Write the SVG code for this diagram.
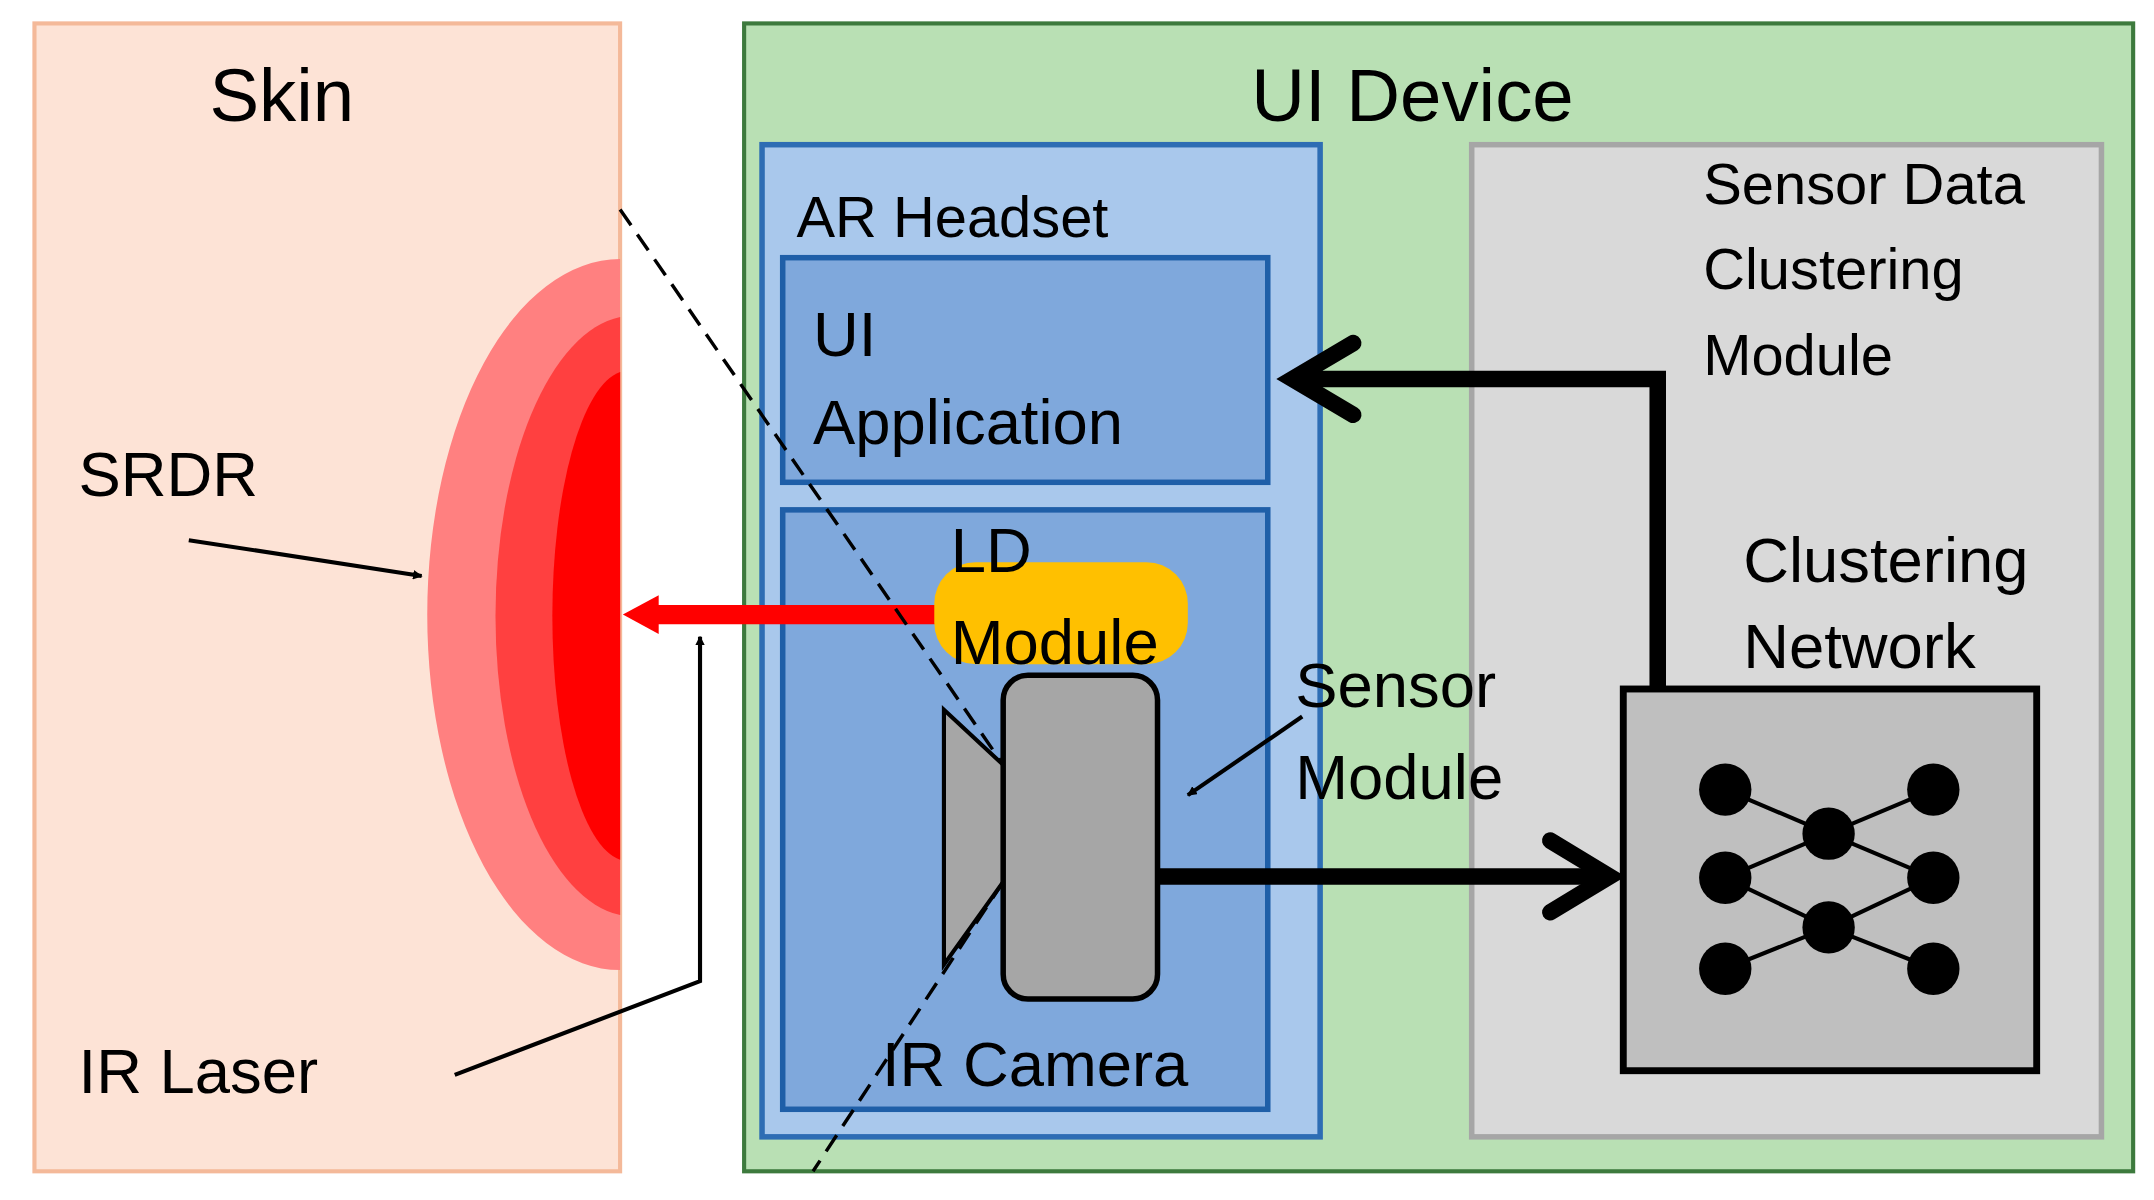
<svg xmlns="http://www.w3.org/2000/svg" width="2154" height="1200" viewBox="0 0 2154 1200">
<defs>
<style>
text{font-family:"Liberation Sans",Arial,sans-serif;fill:#000}
.t52{font-size:54px}.t44{font-size:46px}.t40{font-size:42px}
.thin{stroke:#000;stroke-width:3;fill:none}
.thick{stroke:#000;stroke-width:12;fill:none}
.n{fill:#000}
</style>
<marker id="ah" viewBox="0 0 10 10" refX="9" refY="5" markerWidth="7" markerHeight="7" orient="auto-start-reverse" markerUnits="userSpaceOnUse"><path d="M0,0L10,5L0,10z" fill="#000"/></marker>
<marker id="ahs" viewBox="0 0 10 10" refX="9" refY="5" markerWidth="8" markerHeight="8" orient="auto" markerUnits="strokeWidth"><path d="M0,0L10,5L0,10z" fill="#000"/></marker>
</defs>
<rect width="2154" height="1200" fill="#fff"/>
<g transform="scale(1.378)">
<g id="skin"><rect x="25" y="17" width="425" height="833" fill="#fde3d6" stroke="#f4b999" stroke-width="3"/>
<text class="t52" x="152" y="88">Skin</text></g>
<g id="srdr-shape">
<path d="M450,188 A140,258 0 0 0 450,704 Z" fill="#ff8080"/>
<path d="M450,230 A100,218 0 0 0 450,664 Z" fill="#ff4040"/>
<path d="M450,270 A55,178 0 0 0 450,624 Z" fill="#ff0000"/>
</g>
<g id="ui-device"><rect x="540" y="17" width="1008" height="833" fill="#b9e0b4" stroke="#3d7a3d" stroke-width="3"/>
<text class="t52" x="908" y="88">UI Device</text></g>
<g id="ar-headset"><rect x="553" y="105" width="405" height="720" fill="#a9c8ec" stroke="#2e6db4" stroke-width="4"/>
<text class="t40" x="578" y="172">AR Headset</text></g>
<g id="ui-app"><rect x="568" y="187" width="352" height="163" fill="#7fa8dc" stroke="#1f5fa8" stroke-width="4"/>
<text class="t44" x="590" y="258">UI</text><text class="t44" x="590" y="322">Application</text></g>
<g id="sensor-module"><rect x="568" y="370" width="352" height="435" fill="#7fa8dc" stroke="#1f5fa8" stroke-width="4"/></g>
<g id="sdcm"><rect x="1068" y="105" width="457" height="720" fill="#d9d9d9" stroke="#a6a6a6" stroke-width="4"/>
<text class="t40" x="1236" y="148">Sensor Data</text><text class="t40" x="1236" y="210">Clustering</text><text class="t40" x="1236" y="272">Module</text></g>
<g id="cluster-net"><rect x="1178" y="500" width="300" height="277" fill="#bfbfbf" stroke="#000" stroke-width="5"/>
<text class="t44" x="1265" y="422">Clustering</text><text class="t44" x="1265" y="485">Network</text>
<g stroke="#000" stroke-width="3">
<line x1="1252" y1="573" x2="1327" y2="605"/><line x1="1252" y1="637" x2="1327" y2="605"/><line x1="1252" y1="637" x2="1327" y2="673"/><line x1="1252" y1="703" x2="1327" y2="673"/>
<line x1="1403" y1="573" x2="1327" y2="605"/><line x1="1403" y1="637" x2="1327" y2="605"/><line x1="1403" y1="637" x2="1327" y2="673"/><line x1="1403" y1="703" x2="1327" y2="673"/></g>
<circle class="n" cx="1252" cy="573" r="19"/><circle class="n" cx="1252" cy="637" r="19"/><circle class="n" cx="1252" cy="703" r="19"/>
<circle class="n" cx="1327" cy="605" r="19"/><circle class="n" cx="1327" cy="673" r="19"/>
<circle class="n" cx="1403" cy="573" r="19"/><circle class="n" cx="1403" cy="637" r="19"/><circle class="n" cx="1403" cy="703" r="19"/>
</g>
<g id="ir-camera">
<polygon points="685,515 728,555 728,640 685,700" fill="#a6a6a6" stroke="#000" stroke-width="3"/>
<rect x="728" y="490" width="112" height="235" rx="18" fill="#a6a6a6" stroke="#000" stroke-width="4"/>
<text class="t44" x="640" y="788">IR Camera</text></g>
<g id="connectors">
<line x1="680" y1="446" x2="470" y2="446" stroke="#ff0000" stroke-width="14"/>
<path d="M478,432 L452,446 L478,460 Z" fill="#ff0000"/>
<g id="ld-module"><rect x="678" y="408" width="184" height="74" rx="30" fill="#ffc000"/>
<text class="t44" x="690" y="415">LD</text><text class="t44" x="690" y="482">Module</text></g>
<line x1="450" y1="152" x2="728" y2="555" stroke="#000" stroke-width="2.5" stroke-dasharray="14,8"/>
<line x1="728" y1="640" x2="590" y2="850" stroke="#000" stroke-width="2.5" stroke-dasharray="14,8"/>
<line class="thin" x1="137" y1="392" x2="306" y2="418" marker-end="url(#ah)"/>
<polyline class="thin" points="330,780 508,712 508,462" marker-end="url(#ah)"/>
<line class="thin" x1="945" y1="520" x2="862" y2="577" marker-end="url(#ah)"/>
<line class="thick" x1="840" y1="636" x2="1168" y2="636"/>
<polyline class="thick" points="1125,610 1168,636 1125,662" stroke-linecap="round"/>
<polyline class="thick" points="1203,500 1203,275 938,275"/>
<polyline class="thick" points="982,249 938,275 982,301" stroke-linecap="round"/>
<text class="t44" x="940" y="513">Sensor</text><text class="t44" x="940" y="580">Module</text>
</g>
<text class="t44" x="57" y="360">SRDR</text>
<text class="t44" x="57" y="793">IR Laser</text>
</g>
</svg>
